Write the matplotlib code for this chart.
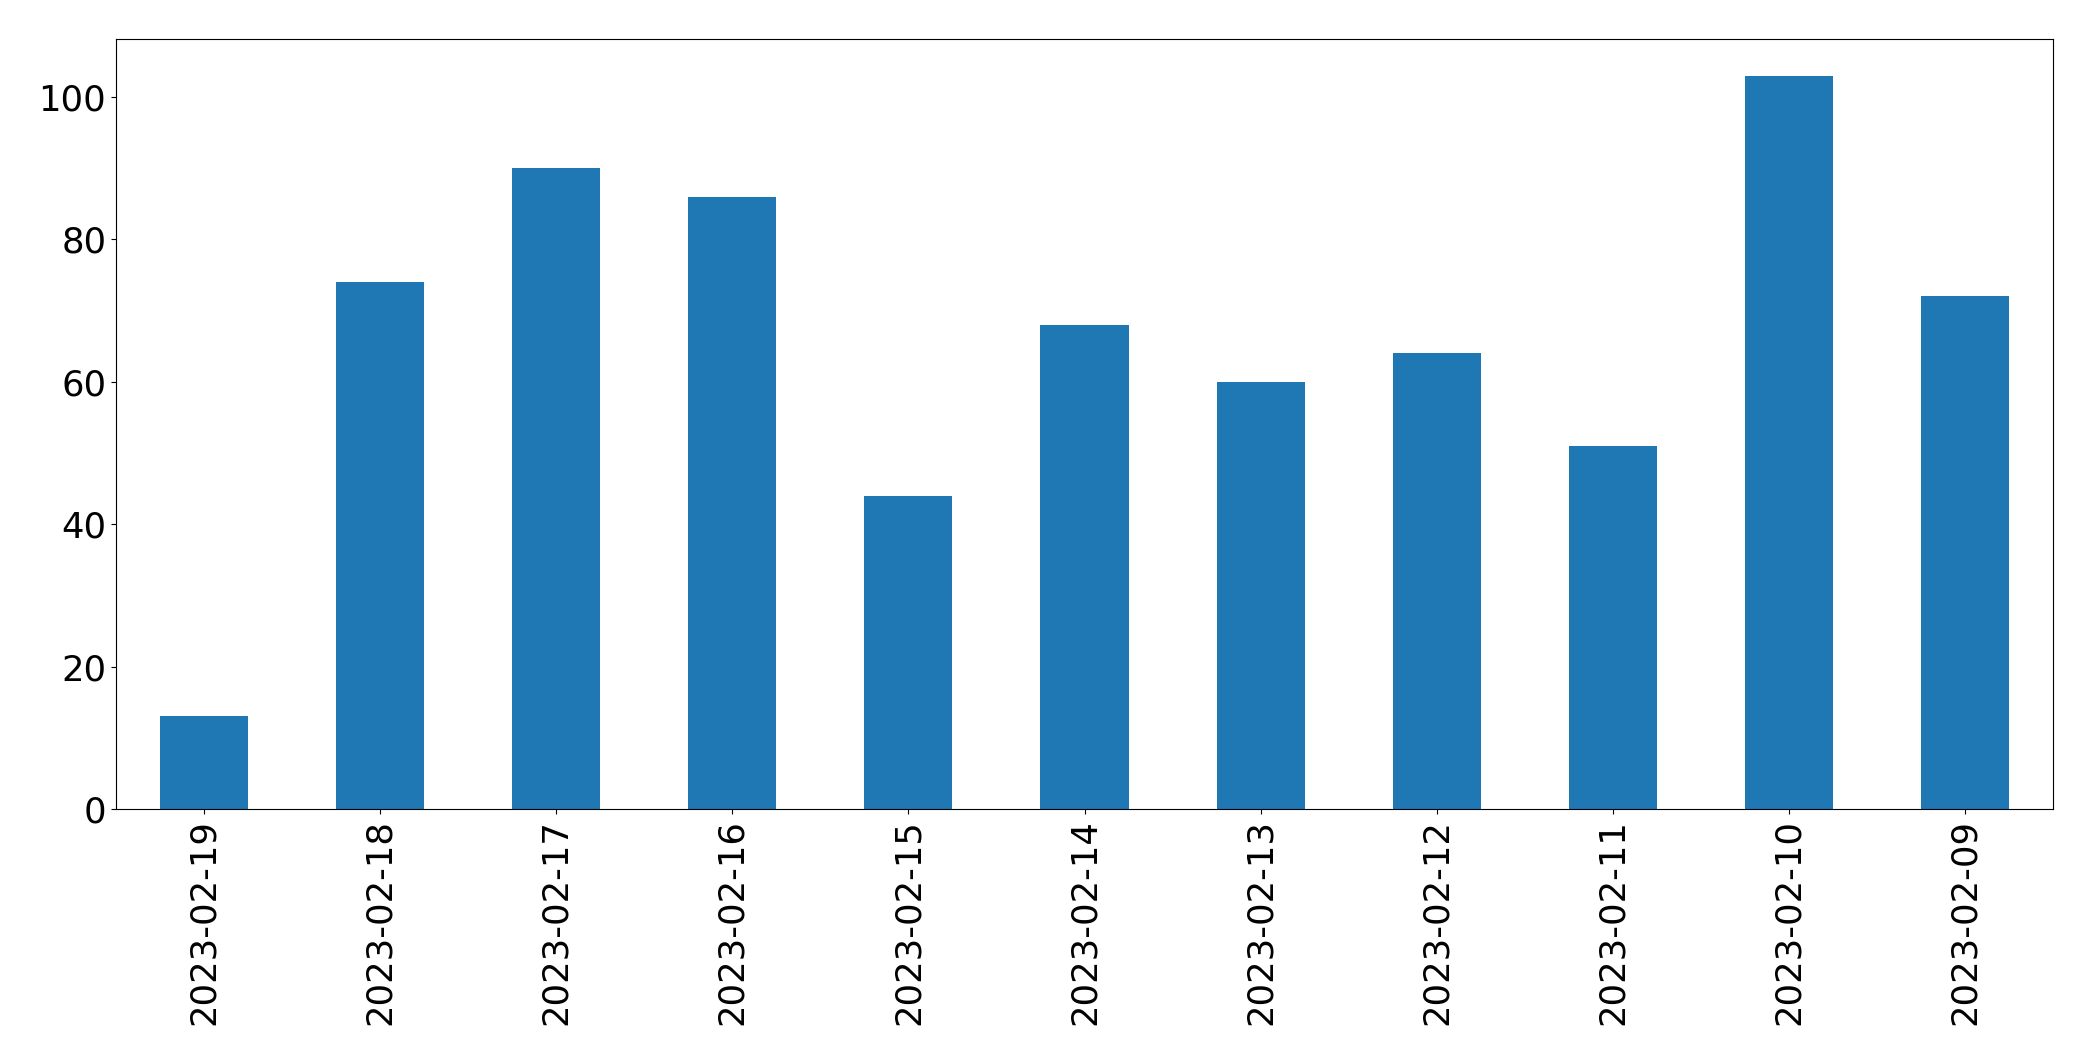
import matplotlib.pyplot as plt
import numpy as np

dates = ['2023-02-19', '2023-02-18', '2023-02-17', '2023-02-16', '2023-02-15',
         '2023-02-14', '2023-02-13', '2023-02-12', '2023-02-11', '2023-02-10',
         '2023-02-09']
counts = [13, 74, 90, 86, 44, 68, 60, 64, 51, 103, 72]

fig = plt.figure(figsize=(20.93, 10.61), dpi=100)
ax = fig.add_axes([116 / 2093, 1 - 809 / 1061, (2053 - 116) / 2093, (809 - 39) / 1061])

x = np.arange(len(dates))
ax.bar(x, counts, width=0.5, color='#1f77b4')
ax.set_xlim(-0.5, len(dates) - 0.5)
ax.set_ylim(0, max(counts) * 1.05)
ax.set_xticks(x)
ax.set_xticklabels(dates, rotation=90)
ax.tick_params(labelsize=25.5)

fig.savefig('out.png', dpi=100)
plt.close()
